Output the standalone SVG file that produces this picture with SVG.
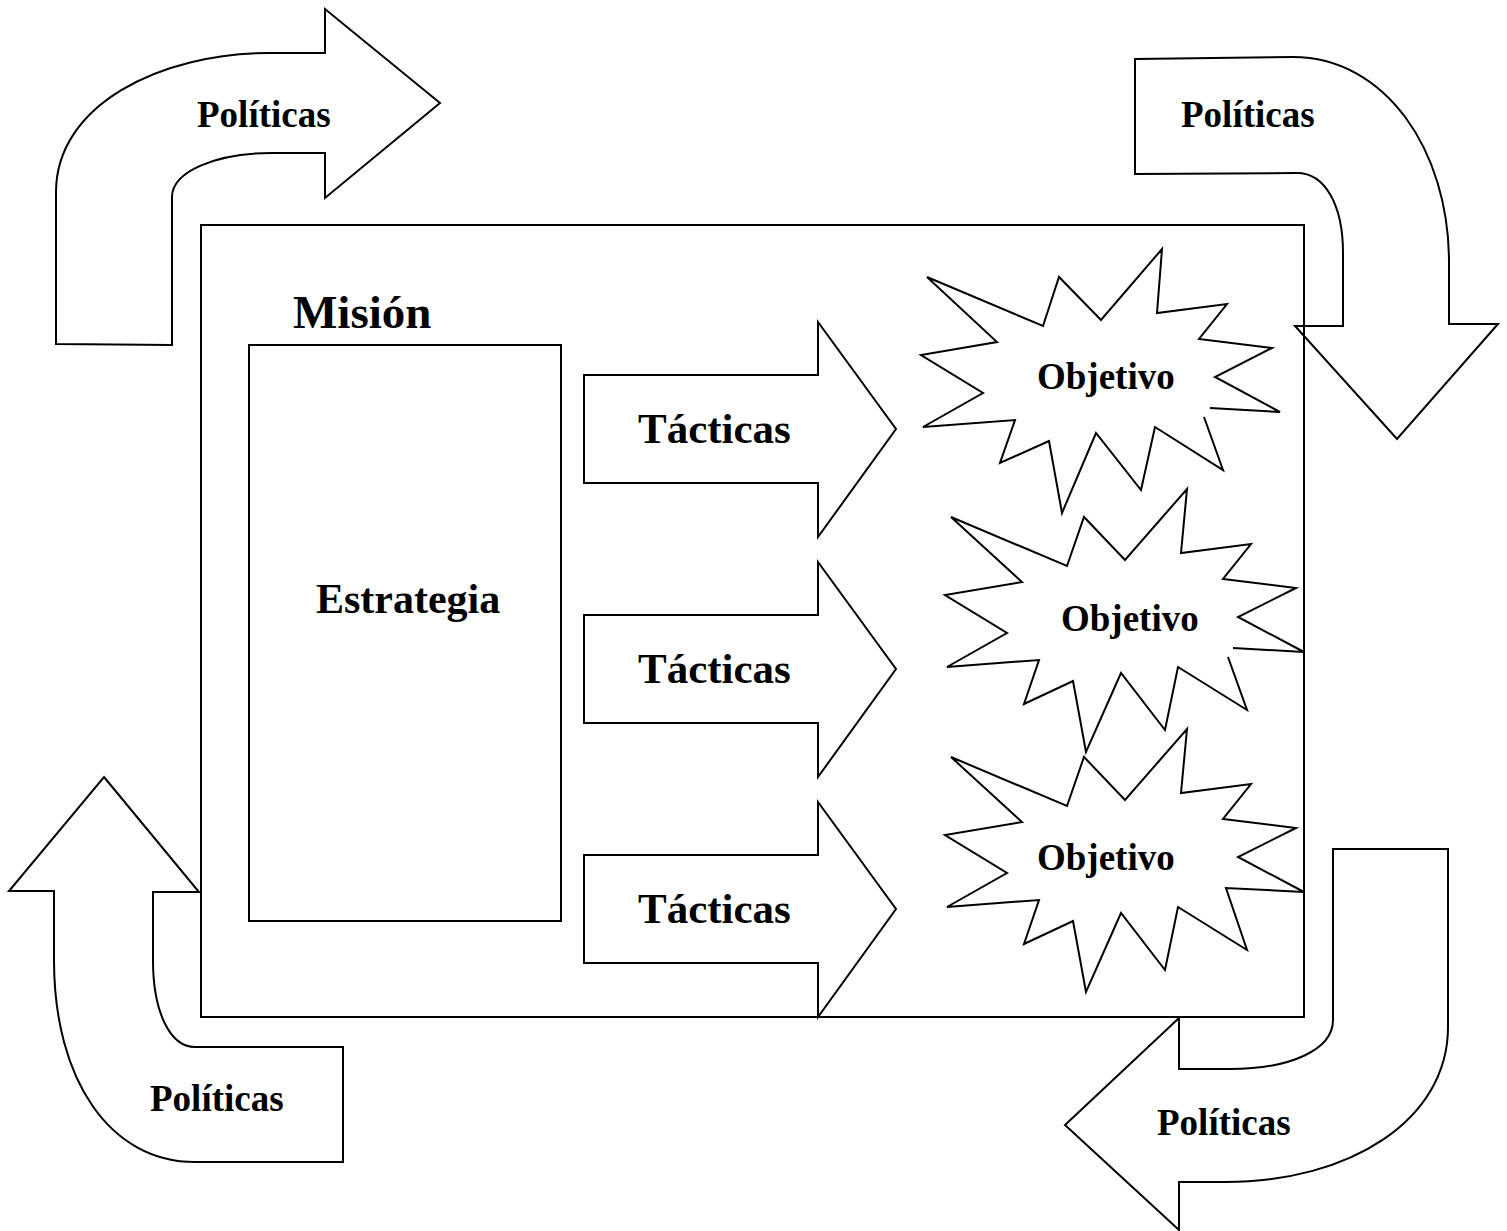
<svg xmlns="http://www.w3.org/2000/svg" width="1507" height="1231" viewBox="0 0 1507 1231">
<style>
.s{fill:#fff;stroke:#000;stroke-width:2;stroke-linejoin:miter}
.n{fill:none;stroke:#000;stroke-width:2}
.t{font-family:"Liberation Serif","Times New Roman",serif;font-weight:bold;fill:#000}
</style>
<rect width="1507" height="1231" fill="#fff"/>
<g id="politicas-tl">
<path class="s" d="M56,344 L56,192 C56,105 160,53 270,53 L325,53 L325,9 L440,103 L325,198 L325,153 L272,153 C215,153 172,172 172,197 L172,345 Z"/>
<text class="t" x="197" y="127" font-size="37">Políticas</text>
</g>
<g id="politicas-tr">
<path class="s" d="M1135,59 L1293,57 C1385,57 1449,150 1449,262 L1449,324 L1498,324 L1397,439 L1295,326 L1343,326 L1343,253 C1343,205 1325,173 1297,173 L1135,174 Z"/>
<text class="t" x="1181" y="127" font-size="37">Políticas</text>
</g>
<g id="politicas-bl">
<path class="s" d="M104,777 L199,892 L153,892 L153,960 C153,1012 170,1047 195,1047 L343,1047 L343,1162 L195,1162 C110,1162 54,1080 54,960 L54,891 L9,891 Z"/>
<text class="t" x="150" y="1111" font-size="37">Políticas</text>
</g>
<g id="politicas-br">
<path class="s" d="M1333,849 L1448,849 L1448,1027 C1448,1120 1350,1182 1225,1182 L1179,1182 L1179,1230 L1065,1125 L1179,1018 L1179,1069 L1230,1069 C1290,1069 1333,1050 1333,1020 Z"/>
<text class="t" x="1157" y="1135" font-size="37">Políticas</text>
</g>
<g id="mision">
<rect class="n" x="201" y="225" width="1103" height="792"/>
<text class="t" x="293" y="328" font-size="47">Misión</text>
</g>
<g id="estrategia">
<rect class="s" x="249" y="345" width="312" height="576"/>
<text class="t" x="316" y="613" font-size="42">Estrategia</text>
</g>
<g id="connectors">
<g id="tacticas-1">
<path class="s" d="M584,375 L818,375 L818,322 L896,429 L818,537 L818,483 L584,483 Z"/>
<text class="t" x="638" y="443" font-size="43">Tácticas</text>
</g>
<g id="tacticas-2">
<path class="s" d="M584,615 L818,615 L818,562 L896,669 L818,777 L818,723 L584,723 Z"/>
<text class="t" x="638" y="683" font-size="43">Tácticas</text>
</g>
<g id="tacticas-3">
<path class="s" d="M584,855 L818,855 L818,802 L896,909 L818,1017 L818,963 L584,963 Z"/>
<text class="t" x="638" y="923" font-size="43">Tácticas</text>
</g>
</g>
<g id="objetivo-1">
<polyline class="s" points="1204,417 1223,470 1155,427 1141,490 1096,433 1062,513 1049,441 1000,463 1015,420 923,427 983,393 921,355 997,342 927,277 1043,326 1059,277 1101,320 1162,249 1157,313 1227,304 1199,339 1272,348 1215,377 1280,412 1210,408"/>
<text class="t" x="1037" y="389" font-size="37">Objetivo</text>
</g>
<g id="objetivo-2">
<polyline class="s" points="1228,657 1247,710 1178,667 1165,730 1121,673 1086,752 1073,681 1024,704 1039,660 947,667 1007,633 945,595 1022,582 951,517 1067,566 1084,517 1125,560 1187,489 1181,553 1251,544 1223,579 1296,588 1238,617 1304,652 1233,648"/>
<text class="t" x="1061" y="631" font-size="37">Objetivo</text>
</g>
<g id="objetivo-3">
<polygon class="s" points="951,757 1067,806 1084,757 1125,800 1187,729 1181,793 1251,784 1223,819 1296,828 1238,857 1304,892 1226,888 1247,950 1178,907 1165,970 1121,913 1086,992 1073,921 1024,944 1039,900 947,907 1007,873 945,835 1022,822"/>
<text class="t" x="1037" y="870" font-size="37">Objetivo</text>
</g>
</svg>
